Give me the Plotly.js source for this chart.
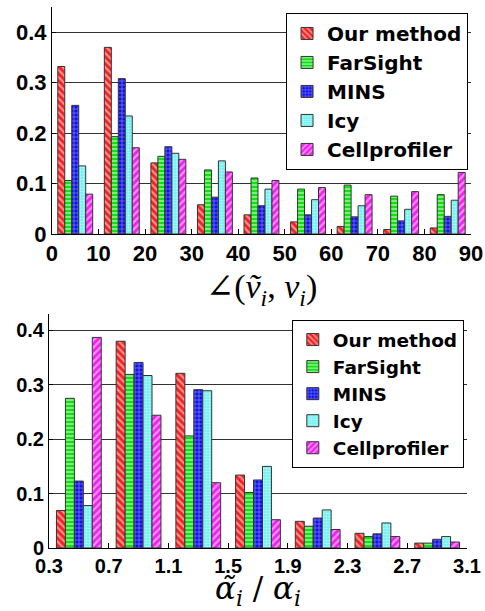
<!DOCTYPE html>
<html>
<head>
<meta charset="utf-8">
<script src="https://cdn.plot.ly/plotly-3.0.1.min.js"></script>
<style>
  html, body { margin: 0; padding: 0; background: #fff; }
  #chart { width: 485px; height: 611px; }
</style>
</head>
<body>
<div id="chart"></div>
<script>
// Method names, shared by both histograms
const methods = ['Our method', 'FarSight', 'MINS', 'Icy', 'Cellprofiler'];

// Angle histogram: bin centres (degrees) and normalised frequencies
const angleBins = [5, 15, 25, 35, 45, 55, 65, 75, 85];
const angleOur  = [0.332, 0.370, 0.141, 0.058, 0.038, 0.024, 0.015, 0.009, 0.012];
const angleFar  = [0.106, 0.193, 0.154, 0.127, 0.111, 0.089, 0.097, 0.075, 0.078];
const angleMins = [0.255, 0.308, 0.173, 0.073, 0.056, 0.038, 0.034, 0.026, 0.035];
const angleIcy  = [0.135, 0.234, 0.160, 0.145, 0.089, 0.068, 0.056, 0.049, 0.067];
const angleCell = [0.079, 0.171, 0.148, 0.123, 0.106, 0.092, 0.078, 0.084, 0.122];

// Ratio histogram: bin centres and normalised frequencies
const ratioBins = [0.5, 0.9, 1.3, 1.7, 2.1, 2.5, 2.9];
const ratioOur  = [0.069, 0.380, 0.321, 0.134, 0.049, 0.027, 0.009];
const ratioFar  = [0.275, 0.319, 0.206, 0.102, 0.040, 0.021, 0.009];
const ratioMins = [0.123, 0.341, 0.291, 0.125, 0.055, 0.026, 0.016];
const ratioIcy  = [0.078, 0.317, 0.289, 0.150, 0.070, 0.046, 0.021];
const ratioCell = [0.387, 0.244, 0.120, 0.052, 0.034, 0.021, 0.011];

// Tick labels
const angleTicks = [0, 10, 20, 30, 40, 50, 60, 70, 80, 90];
const ratioTicks = [0.3, 0.7, 1.1, 1.5, 1.9, 2.3, 2.7, 3.1];
const yTicks = [0, 0.1, 0.2, 0.3, 0.4];

// Hatch style per method
const styles = [
  { bg: '#f22020', shape: '\\', size: 5, solidity: 0.45 },
  { bg: '#10e010', shape: '-',  size: 4, solidity: 0.45 },
  { bg: '#1010e8', shape: '+',  size: 4, solidity: 0.3 },
  { bg: '#70f0f0', shape: '.',  size: 3, solidity: 0.4 },
  { bg: '#f020f0', shape: '/',  size: 5, solidity: 0.45 }
];

function makeTraces(x, series, xa, ya, legend) {
  return series.map((y, i) => ({
    type: 'bar',
    x: x,
    y: y,
    name: methods[i],
    xaxis: xa,
    yaxis: ya,
    legend: legend,
    marker: {
      color: styles[i].bg,
      line: { color: '#333', width: 1 },
      pattern: {
        shape: styles[i].shape,
        bgcolor: styles[i].bg,
        fgcolor: '#ffffff',
        size: styles[i].size,
        solidity: styles[i].solidity,
        fillmode: 'overlay'
      }
    },
    hoverinfo: 'x+y+name'
  }));
}

const traces = [
  ...makeTraces(angleBins, [angleOur, angleFar, angleMins, angleIcy, angleCell], 'x', 'y', 'legend'),
  ...makeTraces(ratioBins, [ratioOur, ratioFar, ratioMins, ratioIcy, ratioCell], 'x2', 'y2', 'legend2')
];

const sansBold = 'Liberation Sans, Arial, Helvetica, sans-serif';
const wideBold = 'DejaVu Sans, Verdana, sans-serif';
const tickFont = { family: sansBold, size: 22, color: '#000', weight: 'bold' };
const legendFont = { family: wideBold, size: 20, color: '#000', weight: 'bold' };

const yAxisBase = {
  tickvals: yTicks,
  ticktext: yTicks.map(v => String(v)),
  showgrid: true,
  gridcolor: '#333',
  gridwidth: 1,
  zeroline: false,
  showline: true,
  linecolor: '#000',
  linewidth: 1,
  ticks: 'inside',
  ticklen: 4,
  tickcolor: '#000',
  tickfont: tickFont,
  fixedrange: true
};

const xAxisBase = {
  showgrid: false,
  zeroline: false,
  showline: true,
  linecolor: '#000',
  linewidth: 1,
  ticks: 'inside',
  ticklen: 5,
  tickcolor: '#000',
  tickfont: tickFont,
  fixedrange: true
};

const layout = {
  width: 485,
  height: 611,
  margin: { l: 49, r: 14, t: 7, b: 63 },
  paper_bgcolor: '#fff',
  plot_bgcolor: '#fff',
  barmode: 'group',
  bargap: 0.25,
  bargroupgap: 0,
  showlegend: true,
  xaxis: Object.assign({}, xAxisBase, {
    domain: [0.007, 1.0],
    range: [0, 90],
    tickvals: angleTicks,
    ticktext: angleTicks.map(String),
    anchor: 'y',
    title: {
      text: '<span style="font-family:DejaVu Serif">∠</span>(<i>ṽ<sub>i</sub></i>, <i>v<sub>i</sub></i>)',
      font: { family: 'Liberation Serif, Times New Roman, serif', size: 34, color: '#000' },
      standoff: 1
    }
  }),
  yaxis: Object.assign({}, yAxisBase, {
    domain: [0.5804, 1.0],
    range: [0, 0.45],
    anchor: 'x'
  }),
  xaxis2: Object.assign({}, xAxisBase, {
    domain: [0, 0.9905],
    range: [0.3, 3.1],
    tickvals: ratioTicks,
    ticktext: ratioTicks.map(v => v.toFixed(1)),
    tickfont: Object.assign({}, tickFont, { size: 20 }),
    anchor: 'y2',
    title: {
      text: '<i>α̃<sub>i</sub></i> / <i>α<sub>i</sub></i>',
      font: { family: 'DejaVu Serif, serif', size: 31, color: '#000' },
      standoff: 7
    }
  }),
  yaxis2: Object.assign({}, yAxisBase, {
    domain: [0, 0.4325],
    range: [0, 0.43],
    anchor: 'x2',
    tickfont: Object.assign({}, tickFont, { size: 20 })
  }),
  legend: {
    x: 0.993, y: 0.989, xanchor: 'right', yanchor: 'top',
    bgcolor: '#fff', bordercolor: '#000', borderwidth: 1,
    font: legendFont, traceorder: 'normal', itemwidth: 30
  },
  legend2: {
    x: 0.983, y: 0.4214, xanchor: 'right', yanchor: 'top',
    bgcolor: '#fff', bordercolor: '#000', borderwidth: 1,
    font: Object.assign({}, legendFont, { size: 18.5 }), traceorder: 'normal', itemwidth: 30
  }
};

Plotly.newPlot('chart', traces, layout, { displayModeBar: false, staticPlot: true });
</script>
</body>
</html>
